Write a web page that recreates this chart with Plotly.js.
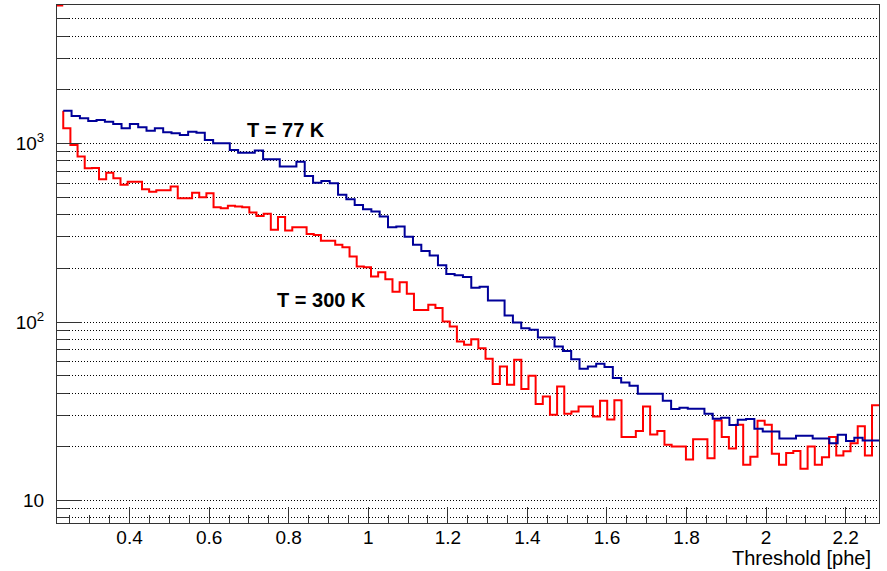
<!DOCTYPE html>
<html>
<head>
<meta charset="utf-8">
<script src="https://cdn.plot.ly/plotly-3.0.1.min.js"></script>
<style>html,body{margin:0;padding:0;background:#fff;}#chart{width:887px;height:571px;}</style>
</head>
<body>
<div id="chart"></div>
<script>
// ---- data ----
// T = 77 K histogram (98 bins starting at 0.2333 phe, width 0.02093 phe)
var blueBinStart = 0.2333;
var blueBinWidth = 0.02093;
var blueValues = [1528,1427,1386,1338,1356,1326,1288,1218,1288,1234,
  1181,1218,1157,1142,1117,1166,1151,1047,1004,1004,
  921,889,889,913,817,817,743,743,792,659,
  604,618,599,516,488,453,429,416,390,340,
  343,301,271,250,236,208,186,183,179,156,
  158,132,132,109,99.5,92.5,90.5,82,82,73,
  69,62,54.8,56.4,58.4,56,48.6,45.9,44,39.7,
  39.7,39.7,36.3,32.6,33.1,32.7,32.7,30.7,28.8,29.1,
  26.5,28.4,28.7,25.3,24.4,24.4,22.3,22.3,23.1,23.1,
  22.3,22.3,21.0,23.4,21.6,22.5,21.7,21.7];

// T = 300 K histogram (114 bins starting at 0.2333 phe, width 0.018 phe)
var redBinStart = 0.2333;
var redBinWidth = 0.01799;
var redValues = [1218,982,845,728,730,631,687,639,587,612,
  612,555,538,548,548,574,494,494,531,500,
  527,440,434,448,444,440,411,393,405,329,
  388,326,340,340,312,308,286,286,271,263,
  233,205,203,180,190,174,148,167,144,117,
  117,125,120,100.8,94.5,77.9,74.6,80.3,71.5,62.3,
  45,56.4,44.6,61.5,42.2,50.1,34.8,38.3,30.3,43.6,
  30.7,31.6,33.7,33.7,29.6,36.3,28.5,36.5,22.7,22.7,
  24.6,33.7,23.5,24.6,20.6,20.1,20.1,17.0,22.1,22.1,
  17.3,28.1,22.7,19.6,26.6,15.9,17.6,28.0,26.6,18.3,
  15.9,18.5,19.0,15.1,20.1,15.9,17.5,22.7,17.9,18.9,
  21.0,26.1,17.9,34.2];
var redLeadIn = 1528;        // level the red line starts from at its first edge
var redUnderflowX = [0.2176, 0.2333]; // red bin left of the first edge, clipped at frame top

// axes
var xRange = [0.2176, 2.2837];
var yRangeLog = [0.875, 3.776];
var xTickVals = [0.4,0.6,0.8,1,1.2,1.4,1.6,1.8,2,2.2];
var xTickText = ['0.4','0.6','0.8','1','1.2','1.4','1.6','1.8','2','2.2'];
var yTickVals = [10,100,1000];
var yTickText = ['10','10<sup>2</sup>','10<sup>3</sup>'];
var yMinorVals = [8,9,20,30,40,50,60,70,80,90,200,300,400,500,600,700,800,900,2000,3000,4000,5000];
var xTitle = 'Threshold [phe]';
var label77 = 'T = 77 K';
var label300 = 'T = 300 K';

function stepXY(start, width, vals, lead) {
  var xs = [], ys = [];
  if (lead !== undefined) { xs.push(start); ys.push(lead); }
  for (var i = 0; i < vals.length; i++) { xs.push(start + i * width); ys.push(vals[i]); }
  xs.push(start + vals.length * width); ys.push(vals[vals.length - 1]);
  return {x: xs, y: ys};
}

var b = stepXY(blueBinStart, blueBinWidth, blueValues);
var r = stepXY(redBinStart, redBinWidth, redValues, redLeadIn);
var yTop = Math.pow(10, yRangeLog[1]);

var traces = [
  {x: r.x, y: r.y, type: 'scatter', mode: 'lines', line: {shape: 'hv', color: '#ff0000', width: 2}, hoverinfo: 'skip'},
  {x: redUnderflowX, y: [yTop, yTop], type: 'scatter', mode: 'lines', line: {color: '#ff0000', width: 3}, hoverinfo: 'skip'},
  {x: b.x, y: b.y, type: 'scatter', mode: 'lines', line: {shape: 'hv', color: '#000099', width: 2}, hoverinfo: 'skip'}
];

var font = 'Liberation Sans, Arial, Helvetica, sans-serif';
var layout = {
  width: 887, height: 571,
  margin: {l: 57, r: 8, t: 5, b: 48, pad: 0},
  paper_bgcolor: '#ffffff', plot_bgcolor: '#ffffff',
  showlegend: false,
  font: {family: font, size: 19, color: '#000'},
  xaxis: {
    range: xRange, showgrid: false, zeroline: false,
    showline: true, mirror: true, linecolor: '#333', linewidth: 1,
    ticks: 'inside', ticklen: 16, tickwidth: 1, tickcolor: '#333',
    tickmode: 'array', tickvals: xTickVals, ticktext: xTickText,
    tickfont: {family: font, size: 19, color: '#000'},
    ticklabelstandoff: -3,
    minor: {dtick: 0.05, tick0: 0, ticks: 'inside', ticklen: 8, tickwidth: 1, tickcolor: '#333', showgrid: false}
  },
  yaxis: {
    type: 'log', range: yRangeLog, zeroline: false,
    showline: true, mirror: true, linecolor: '#333', linewidth: 1,
    ticks: 'inside', ticklen: 25, tickwidth: 1, tickcolor: '#333',
    tickmode: 'array', tickvals: yTickVals, ticktext: yTickText,
    tickfont: {family: font, size: 19, color: '#000'},
    ticklabelstandoff: 8,
    showgrid: true, gridcolor: '#000', gridwidth: 1, griddash: '1px,2px',
    minor: {tickmode: 'array', tickvals: yMinorVals, ticks: 'inside', ticklen: 12, tickwidth: 1, tickcolor: '#333',
            showgrid: true, gridcolor: '#000', gridwidth: 1, griddash: '1px,2px'}
  },
  annotations: [
    {x: 0.6907, y: 3.076, xref: 'x', yref: 'y', text: '<b>' + label77 + '</b>', showarrow: false,
     xanchor: 'left', yanchor: 'middle', font: {family: font, size: 20, color: '#000'}},
    {x: 0.766, y: 2.125, xref: 'x', yref: 'y', text: '<b>' + label300 + '</b>', showarrow: false,
     xanchor: 'left', yanchor: 'middle', font: {family: font, size: 20, color: '#000'}},
    {x: 0.9927, y: -0.0676, xref: 'paper', yref: 'paper', text: xTitle, showarrow: false,
     xanchor: 'right', yanchor: 'middle', font: {family: font, size: 20, color: '#000'}}
  ]
};

Plotly.newPlot('chart', traces, layout, {staticPlot: true, displayModeBar: false});
</script>
</body>
</html>
